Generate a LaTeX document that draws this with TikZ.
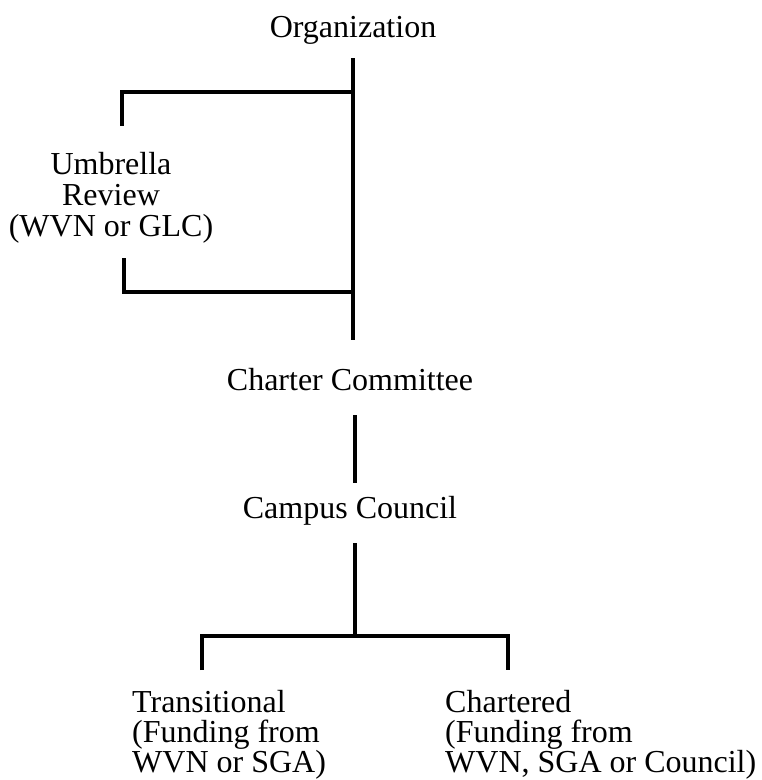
\documentclass[tikz,border=0pt]{standalone}
\usepackage{fontspec}
\setmainfont{Liberation Serif}

\begin{document}
\begin{tikzpicture}[x=1pt,y=-1pt,
		lbl/.style={inner sep=0pt, font=\fontsize{32}{31}\selectfont},
		stack/.style={lbl, align=left, anchor=west, font=\fontsize{32}{30}\selectfont},
		link/.style={line width=3.4pt, line join=miter}]
	\useasboundingbox (0,0) rectangle (762,780);

	% levels
	\node[lbl, anchor=base] (org) at (353,37) {Organization};
	\node[lbl, align=center] (umbrella) at (111,198) {Umbrella\\Review\\(WVN or GLC)};
	\node[lbl, anchor=base] (charter) at (350,390) {Charter Committee};
	\node[lbl, anchor=base] (council) at (350,518) {Campus Council};
	\node[stack] (trans) at (132,735) {Transitional\\(Funding from\\WVN or SGA)};
	\node[stack] (chart) at (445,735) {Chartered\\(Funding from\\WVN, SGA or Council)};

	% line ends
	\coordinate (orgdown) at (353,58);
	\coordinate (umbup) at (353,92);
	\coordinate (umbdown) at (353,292);
	\coordinate (chartup) at (353,340);
	\coordinate (umbtop) at (122,126);
	\coordinate (umbbot) at (124,258);
	\coordinate (chartdown) at (355,415);
	\coordinate (councilup) at (355,483);
	\coordinate (councildown) at (355,543);
	\coordinate (split) at (355,636);
	\coordinate (transtop) at (202,670);
	\coordinate (charttop) at (508,670);

	\draw[link] (orgdown) -- (chartup);
	\draw[link] (umbup) -| (umbtop);
	\draw[link] (umbdown) -| (umbbot);
	\draw[link] (chartdown) -- (councilup);
	\draw[link] (councildown) -- (split);
	\draw[link] (transtop) |- (split) -| (charttop);
\end{tikzpicture}
\end{document}
